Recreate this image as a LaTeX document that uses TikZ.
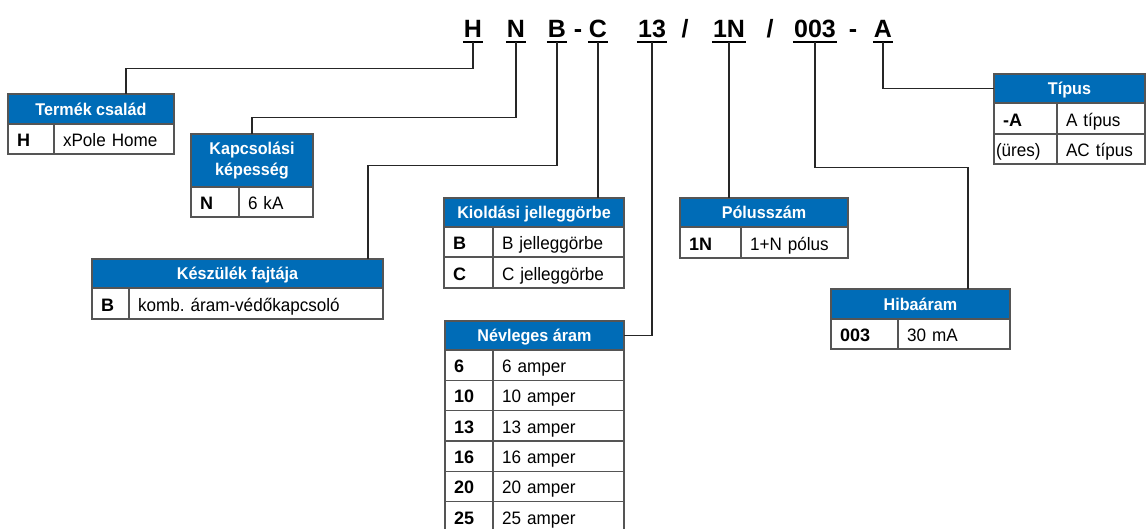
\documentclass[tikz,border=0pt]{standalone}
\usepackage{fontspec}
\setmainfont{Liberation Sans}
\newfontfamily\narrowsans{Liberation Sans}[FakeStretch=0.95]
\usetikzlibrary{positioning}

\definecolor{hblue}{RGB}{0,108,183}
\definecolor{lgray}{RGB}{85,85,85}
\newcommand\hdfont{\narrowsans\bfseries\fontsize{17pt}{21pt}\selectfont}
\newcommand\vlfont{\narrowsans\fontsize{18pt}{22pt}\selectfont}
\newcommand\kyfont{\bfseries\fontsize{18pt}{22pt}\selectfont}
\newcommand\cdfont{\bfseries\fontsize{25pt}{30pt}\selectfont}

\begin{document}
\begin{tikzpicture}[x=1pt, y=-1pt,
    headbox/.style={draw=lgray, line width=1.2pt, fill=hblue, text=white, font=\hdfont,
        anchor=north west, inner sep=0pt, outer sep=0pt, align=center},
    head/.style={headbox, text height=12pt, text depth=0pt},
    key/.style={draw=lgray, line width=1.2pt, font=\kyfont, anchor=north west, inner xsep=9pt,
        inner ysep=0pt, outer sep=0pt, align=left, minimum height=30pt, text height=15pt, text depth=0pt},
    val/.style={key, font=\vlfont},
    code/.style={font=\cdfont, anchor=base, inner xsep=1pt, inner ysep=4.5pt, text depth=0pt},
    uline/.style={line width=2pt},
    conn/.style={line width=1.4pt, draw=black!85}]
    \useasboundingbox (0,0) rectangle (1147,528);
    \clip (0,0) rectangle (1147,528);

    % type code
    \node[code] (cH) at (473,37) {H};
    \node[code] (cN) at (516,37) {N};
    \node[code] (cB) at (557,37) {B};
    \node[code] (s1) at (578,37) {-};
    \node[code] (cC) at (598,37) {C};
    \node[code] (c13) at (652,37) {13};
    \node[code] (s2) at (685,37) {/};
    \node[code] (c1N) at (729,37) {1N};
    \node[code] (s3) at (770,37) {/};
    \node[code] (c003) at (815,37) {003};
    \node[code] (s4) at (853,37) {-};
    \node[code] (cA) at (883,37) {A};

    \draw[uline] (cH.south west) -- (cH.south east);
    \draw[uline] (cN.south west) -- (cN.south east);
    \draw[uline] (cB.south west) -- (cB.south east);
    \draw[uline] (cC.south west) -- (cC.south east);
    \draw[uline] (c13.south west) -- (c13.south east);
    \draw[uline] (c1N.south west) -- (c1N.south east);
    \draw[uline] (c003.south west) -- (c003.south east);
    \draw[uline] (cA.south west) -- (cA.south east);

    % Termek csalad
    \node[head, minimum width=166pt, minimum height=30pt] (tcsh) at (8,94) {Termék család};
    \node[key, text width=28pt] (tcsk1) at (tcsh.south west) {H};
    \node[val, text width=102pt] (tcsv1) [right=0pt of tcsk1] {xPole Home};

    % Kapcsolasi kepesseg
    \node[headbox, minimum width=122pt, minimum height=53pt] (kaph) at (191,134) {Kapcsolási\\képesség};
    \node[key, text width=30pt] (kapk1) at (kaph.south west) {N};
    \node[val, text width=56pt] (kapv1) [right=0pt of kapk1] {6 kA};

    % Keszulek fajtaja
    \node[head, minimum width=291pt, minimum height=29pt] (keszh) at (92,259) {Készülék fajtája};
    \node[key, text width=19pt, minimum height=31pt] (keszk1) at (keszh.south west) {B};
    \node[val, text width=236pt, minimum height=31pt] (keszv1) [right=0pt of keszk1] {komb.\ áram-védőkapcsoló};

    % Kioldasi jelleggorbe
    \node[head, minimum width=180pt, minimum height=29pt] (kiolh) at (444,198) {Kioldási jelleggörbe};
    \node[key, text width=31pt] (kiolk1) at (kiolh.south west) {B};
    \node[val, text width=113pt] (kiolv1) [right=0pt of kiolk1] {B jelleggörbe};
    \node[key, text width=31pt, minimum height=31pt] (kiolk2) [below=0pt of kiolk1] {C};
    \node[val, text width=113pt, minimum height=31pt] (kiolv2) [right=0pt of kiolk2] {C jelleggörbe};

    % Polusszam
    \node[head, minimum width=168pt, minimum height=29pt] (polh) at (680,198) {Pólusszám};
    \node[key, text width=43pt, minimum height=31pt] (polk1) at (polh.south west) {1N};
    \node[val, text width=89pt, minimum height=31pt] (polv1) [right=0pt of polk1] {1+N pólus};

    % Nevleges aram
    \node[head, minimum width=179pt, minimum height=29pt] (nevh) at (445,321) {Névleges áram};
    \node[key, text width=30pt, minimum height=30.3pt] (nevk1) at (nevh.south west) {6};
    \node[val, text width=113pt, minimum height=30.3pt] (nevv1) [right=0pt of nevk1] {6 amper};
    \node[key, text width=30pt, minimum height=30.3pt] (nevk2) [below=0pt of nevk1] {10};
    \node[val, text width=113pt, minimum height=30.3pt] (nevv2) [right=0pt of nevk2] {10 amper};
    \node[key, text width=30pt, minimum height=30.3pt] (nevk3) [below=0pt of nevk2] {13};
    \node[val, text width=113pt, minimum height=30.3pt] (nevv3) [right=0pt of nevk3] {13 amper};
    \node[key, text width=30pt, minimum height=30.3pt] (nevk4) [below=0pt of nevk3] {16};
    \node[val, text width=113pt, minimum height=30.3pt] (nevv4) [right=0pt of nevk4] {16 amper};
    \node[key, text width=30pt, minimum height=30.3pt] (nevk5) [below=0pt of nevk4] {20};
    \node[val, text width=113pt, minimum height=30.3pt] (nevv5) [right=0pt of nevk5] {20 amper};
    \node[key, text width=30pt, minimum height=30.3pt] (nevk6) [below=0pt of nevk5] {25};
    \node[val, text width=113pt, minimum height=30.3pt] (nevv6) [right=0pt of nevk6] {25 amper};

    % Tipus
    \node[head, minimum width=151pt, minimum height=29pt] (tiph) at (994,74) {Típus};
    \node[key, text width=45pt, minimum height=31pt] (tipk1) at (tiph.south west) {-A};
    \node[val, text width=70pt, minimum height=31pt] (tipv1) [right=0pt of tipk1] {A típus};
    \node[val, text width=59pt, inner xsep=2pt] (tipk2) [below=0pt of tipk1] {(üres)};
    \node[val, text width=70pt] (tipv2) [right=0pt of tipk2] {AC típus};

    % Hibaaram
    \node[head, minimum width=179pt, minimum height=30pt] (hibh) at (831,289) {Hibaáram};
    \node[key, text width=49pt] (hibk1) at (hibh.south west) {003};
    \node[val, text width=94pt] (hibv1) [right=0pt of hibk1] {30 mA};

    % connectors
    \draw[conn] (cH.south) -- ++(0,27) -| ([xshift=118pt]tcsh.north west);
    \draw[conn] (cN.south) -- ++(0,76) -| ([xshift=61pt]kaph.north west);
    \draw[conn] (cB.south) -- ++(0,124) -| ([xshift=276pt]keszh.north west);
    \draw[conn] (cC.south) -- (kiolh.north -| cC.south);
    \draw[conn] (c13.south) |- (nevh.east);
    \draw[conn] (c1N.south) -- (polh.north -| c1N.south);
    \draw[conn] (c003.south) -- ++(0,126) -| ([xshift=137pt]hibh.north west);
    \draw[conn] (cA.south) |- (tiph.west);
\end{tikzpicture}
\end{document}
